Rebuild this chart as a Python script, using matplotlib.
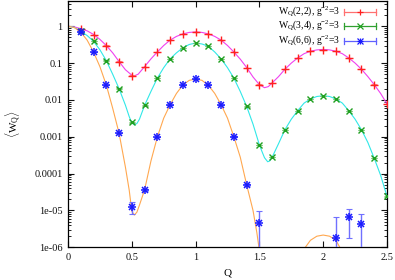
import numpy as np
import matplotlib
matplotlib.use("Agg")
import matplotlib.pyplot as plt
from matplotlib.ticker import LogLocator, FixedLocator, NullFormatter

plt.rcParams['font.family'] = ['Liberation Serif', 'DejaVu Serif']
plt.rcParams['mathtext.fontset'] = 'custom'
plt.rcParams['mathtext.rm'] = 'Liberation Serif'
plt.rcParams['mathtext.it'] = 'Liberation Serif:italic'

# ---- data points ----
q_pts = [0.1, 0.2, 0.3, 0.4, 0.5, 0.6, 0.7, 0.8, 0.9, 1.0, 1.1, 1.2, 1.3,
         1.4, 1.5, 1.6, 1.7, 1.8, 1.9, 2.0, 2.1, 2.2, 2.3, 2.4, 2.5]
w22 = [0.85, 0.59, 0.30, 0.11, 0.046, 0.079, 0.20, 0.42, 0.62, 0.70, 0.62, 0.42, 0.20,
       0.075, 0.026, 0.029, 0.068, 0.138, 0.21, 0.23, 0.21, 0.138, 0.068, 0.026, 0.0078]
w34 = [0.73, 0.39, 0.117, 0.0203, 0.00245, 0.0071, 0.039, 0.13, 0.26, 0.35, 0.286, 0.13, 0.039,
       0.0067, 0.0006, 0.00028, 0.00155, 0.0051, 0.0106, 0.013, 0.0106, 0.0051, 0.00155,
       0.00026, 0.000024]
q66 = [0.1, 0.2, 0.3, 0.4, 0.5, 0.6, 0.7, 0.8, 0.9, 1.0, 1.1, 1.2, 1.3, 1.4, 1.5, 2.1, 2.2, 2.3]
w66 = [0.69, 0.2, 0.0255, 0.00126, 1.27e-5, 3.6e-5, 9.8e-4, 0.0074, 0.0255, 0.037, 0.025,
       0.0074, 0.001, 5e-5, 4.6e-6, 1.76e-6, 6.5e-6, 4.2e-6]
e66 = [0.005, 0.002, 0.0003, 2e-5, 4.8e-6, 2.3e-6, 2e-5, 1e-4, 3e-4, 4e-4, 3e-4,
       1e-4, 2e-5, 3e-6, 4.9e-6, 4.8e-6, 4.7e-6, 3.9e-6]

# ---- theory curves ----
q_c22 = [0, 0.05, 0.1, 0.15, 0.2, 0.25, 0.3, 0.35, 0.4, 0.45, 0.5, 0.52, 0.55, 0.6, 0.65, 0.7,
         0.75, 0.8, 0.85, 0.9, 0.95, 1.0, 1.05, 1.1, 1.15, 1.2, 1.25, 1.3, 1.35, 1.4, 1.45, 1.5,
         1.54, 1.57, 1.6, 1.65, 1.7, 1.75, 1.8, 1.85, 1.9, 1.95, 2.0, 2.05, 2.1, 2.15, 2.2, 2.25,
         2.3, 2.35, 2.4, 2.45, 2.5]
c22 = [1.0, 0.96, 0.86, 0.75, 0.6, 0.44, 0.3, 0.19, 0.11, 0.066, 0.047, 0.045, 0.05, 0.08, 0.13,
       0.2, 0.3, 0.42, 0.53, 0.62, 0.68, 0.70, 0.68, 0.62, 0.53, 0.42, 0.3, 0.2, 0.128, 0.076,
       0.042, 0.026, 0.0215, 0.023, 0.029, 0.043, 0.068, 0.1, 0.138, 0.18, 0.21, 0.228, 0.235,
       0.228, 0.21, 0.18, 0.138, 0.1, 0.068, 0.043, 0.026, 0.015, 0.0078]
q_c34 = [0, 0.05, 0.1, 0.15, 0.2, 0.25, 0.3, 0.35, 0.4, 0.45, 0.48, 0.5, 0.52, 0.54, 0.56, 0.6,
         0.65, 0.7, 0.75, 0.8, 0.85, 0.9, 0.95, 1.0, 1.05, 1.1, 1.15, 1.2, 1.25, 1.3, 1.35, 1.4,
         1.45, 1.5, 1.52, 1.54, 1.565, 1.58, 1.6, 1.65, 1.7, 1.75, 1.8, 1.85, 1.9, 1.95, 2.0,
         2.05, 2.1, 2.15, 2.2, 2.25, 2.3, 2.35, 2.4, 2.45, 2.5]
c34 = [1.0, 0.93, 0.73, 0.56, 0.39, 0.23, 0.117, 0.05, 0.0203, 0.0072, 0.0035, 0.0024, 0.0021,
       0.0023, 0.003, 0.0071, 0.017, 0.039, 0.075, 0.13, 0.19, 0.26, 0.32, 0.35, 0.33, 0.286,
       0.2, 0.13, 0.075, 0.039, 0.017, 0.0067, 0.0022, 0.0006, 0.0004, 0.00027, 0.00021,
       0.00022, 0.00028, 0.00065, 0.00155, 0.003, 0.0051, 0.0082, 0.0106, 0.0124, 0.013,
       0.0124, 0.0106, 0.0082, 0.0051, 0.003, 0.00155, 0.0007, 0.00026, 0.00009, 0.000024]
q_c66 = [0, 0.05, 0.1, 0.15, 0.2, 0.25, 0.3, 0.35, 0.4, 0.45, 0.48, 0.5, 0.52, 0.54, 0.56, 0.6,
         0.65, 0.7, 0.75, 0.8, 0.85, 0.9, 0.95, 1.0, 1.05, 1.1, 1.15, 1.2, 1.25, 1.3, 1.35, 1.4,
         1.45, 1.48, 1.5, 1.52, 1.84, 1.86, 1.9, 1.95, 2.0, 2.05, 2.1, 2.13, 2.16]
c66 = [1.0, 0.92, 0.69, 0.42, 0.2, 0.08, 0.0255, 0.006, 0.00126, 1.5e-4, 3.5e-5, 9.5e-6, 7.5e-6,
       9e-6, 1.4e-5, 3.6e-5, 2.2e-4, 9.8e-4, 0.0032, 0.0074, 0.015, 0.0255, 0.034, 0.037,
       0.034, 0.025, 0.015, 0.0074, 0.0032, 0.001, 2.8e-4, 5e-5, 1e-5, 2.5e-6, 8e-7, 1e-7,
       1e-7, 1.0e-6, 1.55e-6, 2.0e-6, 2.15e-6, 2.0e-6, 1.55e-6, 1.0e-6, 1e-7]

labels = [r'W$_{\mathrm{Q}}$(2,2), g$^{-2}$=3',
          r'W$_{\mathrm{Q}}$(3,4), g$^{-2}$=3',
          r'W$_{\mathrm{Q}}$(6,6), g$^{-2}$=3']
xticks = [0, 0.5, 1, 1.5, 2, 2.5]
xticklabels = ['0', '0.5', '1', '1.5', '2', '2.5']
yticks = [1e-6, 1e-5, 1e-4, 1e-3, 1e-2, 1e-1, 1]
yticklabels = ['1e-06', '1e-05', '0.0001', '0.001', '0.01', '0.1', '1']

fig = plt.figure(figsize=(3.95, 2.8), dpi=100)
ax = fig.add_axes([68/395, 1 - 247.3/280, 319/395, 246.8/280])

ax.set_yscale('log')
ax.set_xlim(0, 2.5)
ax.set_ylim(1e-6, 5)

# curves
ax.plot(q_c22, c22, color='#f040f0', lw=0.8, zorder=2)
ax.plot(q_c34, c34, color='#30e8e8', lw=0.8, zorder=2)
ax.plot(q_c66, c66, color='#ffa850', lw=0.8, zorder=2)

# data points
red, green, blue = '#ff2020', '#20a020', '#1a1aff'
ax.errorbar(q_pts, w22, yerr=[0.01 * v for v in w22], fmt='none', ecolor='#ff8080',
            elinewidth=0.8, capsize=2, capthick=0.8, zorder=3)
ax.plot(q_pts, w22, ls='none', marker='+', ms=6, mew=1.0, color=red, zorder=4)
ax.errorbar(q_pts, w34, yerr=[0.01 * v for v in w34], fmt='none', ecolor='#70c070',
            elinewidth=0.8, capsize=2, capthick=0.8, zorder=3)
ax.plot(q_pts, w34, ls='none', marker='x', ms=4.5, mew=1.0, color=green, zorder=4)

w66a = np.array(w66)
e66a = np.array(e66)
lower = np.minimum(e66a, w66a * 0.999)
ax.errorbar(q66, w66, yerr=[lower, e66a], fmt='none', ecolor='#7070ff',
            elinewidth=1.0, capsize=2, capthick=0.8, zorder=3)
ax.plot(q66, w66, ls='none', marker='+', ms=6, mew=1.1, color=blue, zorder=4)
ax.plot(q66, w66, ls='none', marker='x', ms=4.5, mew=1.1, color=blue, zorder=4)

# ticks
ax.xaxis.set_major_locator(FixedLocator(xticks))
ax.set_xticklabels(xticklabels)
ax.yaxis.set_major_locator(FixedLocator(yticks))
ax.set_yticklabels(yticklabels)
ax.yaxis.set_minor_locator(LogLocator(base=10, subs=np.arange(2, 10), numticks=20))
ax.yaxis.set_minor_formatter(NullFormatter())
ax.tick_params(axis='both', which='major', direction='in', length=4, width=0.8,
               top=True, right=True, labelsize=7.5, pad=4, colors='#111111')
ax.tick_params(axis='both', which='minor', direction='in', length=2, width=0.6,
               top=True, right=True)
for s in ax.spines.values():
    s.set_linewidth(0.9)

ax.set_xlabel('Q', fontsize=8, labelpad=5)
ax.set_ylabel(r'$\langle$W$_{\mathrm{Q}}\rangle$', fontsize=8, labelpad=12)
ax.yaxis.set_label_coords(-0.14, 0.5)

# legend (gnuplot style, drawn by hand in axes coordinates)
leg_y_px = [12.0, 26.0, 41.0]
leg_colors = ['#ff7070', '#30a030', '#6060ff']
leg_mk = [red, green, blue]
tx = (340 - 68) / 319
x0, x1 = (344 - 68) / 319, (376 - 68) / 319
for i, lab in enumerate(labels):
    yy = 1 - (leg_y_px[i] - 0.5) / 246.8
    ax.text(tx, yy, lab, transform=ax.transAxes, ha='right', va='center', fontsize=7)
    ax.plot([x0, x1], [yy, yy], transform=ax.transAxes, color=leg_colors[i], lw=0.9,
            clip_on=False, zorder=5)
    for xe in (x0, x1):
        ax.plot([xe, xe], [yy - 0.012, yy + 0.012], transform=ax.transAxes,
                color=leg_colors[i], lw=0.9, clip_on=False, zorder=5)
    xm = (x0 + x1) / 2
    if i == 0:
        ax.plot([xm], [yy], transform=ax.transAxes, marker='+', ms=5, mew=0.9,
                color=leg_mk[i], clip_on=False, zorder=6)
    elif i == 1:
        ax.plot([xm], [yy], transform=ax.transAxes, marker='x', ms=4, mew=0.9,
                color=leg_mk[i], clip_on=False, zorder=6)
    else:
        ax.plot([xm], [yy], transform=ax.transAxes, marker='+', ms=5, mew=0.9,
                color=leg_mk[i], clip_on=False, zorder=6)
        ax.plot([xm], [yy], transform=ax.transAxes, marker='x', ms=4, mew=0.9,
                color=leg_mk[i], clip_on=False, zorder=6)

fig.savefig('out.png', dpi=100)
